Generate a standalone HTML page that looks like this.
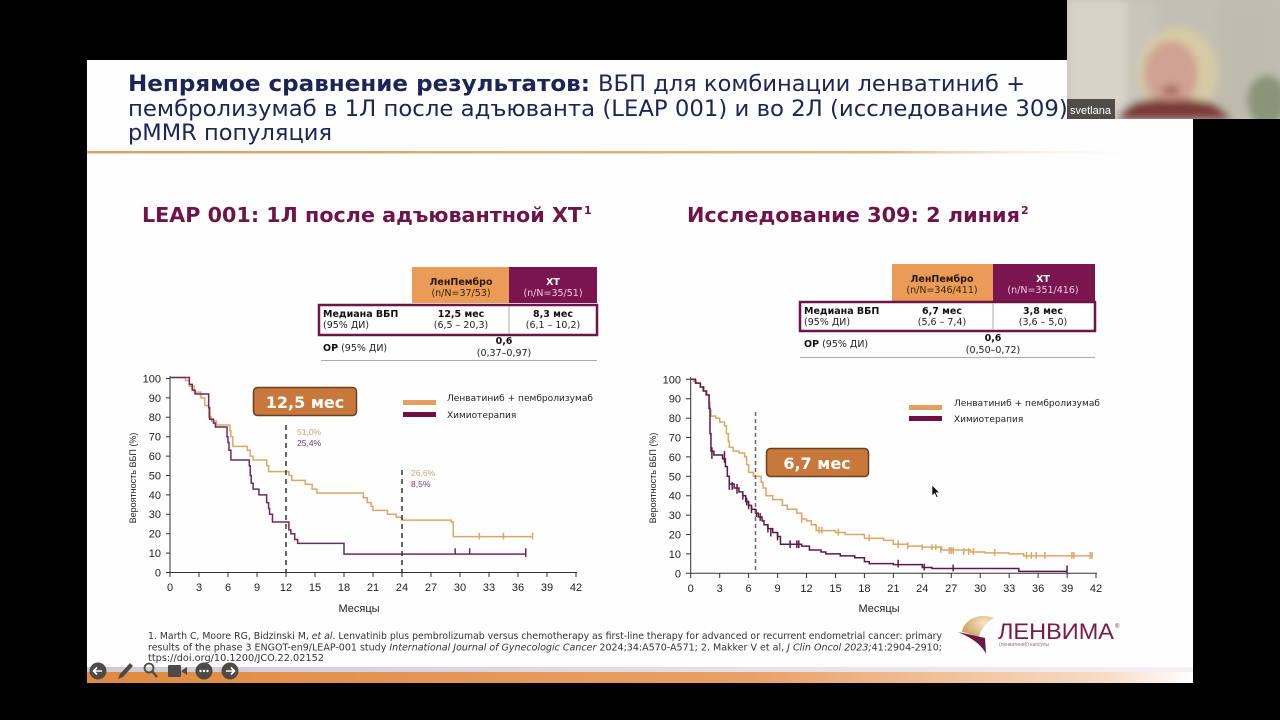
<!DOCTYPE html>
<html><head><meta charset="utf-8">
<style>
html,body{margin:0;padding:0;background:#000;width:1280px;height:720px;overflow:hidden}
svg{display:block}
.v{font-family:"DejaVu Sans","Liberation Sans",sans-serif}
.a{font-family:"Liberation Sans","DejaVu Sans",sans-serif}
</style></head>
<body>
<svg width="1280" height="720" viewBox="0 0 1280 720" xmlns="http://www.w3.org/2000/svg">
<defs>
<linearGradient id="hl" x1="0" x2="1" y1="0" y2="0">
<stop offset="0" stop-color="#d9a465"/><stop offset="0.75" stop-color="#e2b682"/><stop offset="1" stop-color="#ffffff" stop-opacity="0"/>
</linearGradient>
<linearGradient id="bl" x1="0" x2="1" y1="0" y2="0">
<stop offset="0" stop-color="#e08a40"/><stop offset="0.6" stop-color="#e9a066"/><stop offset="0.92" stop-color="#f6dcc4"/><stop offset="1" stop-color="#ffffff"/>
</linearGradient>
<linearGradient id="lv" x1="0" x2="1" y1="0" y2="0">
<stop offset="0" stop-color="#cfc8d8"/><stop offset="1" stop-color="#f4f0f4"/>
</linearGradient>
<filter id="blur" x="-20%" y="-20%" width="140%" height="140%"><feGaussianBlur stdDeviation="4"/></filter>
<radialGradient id="sw" cx="0.7" cy="0.3" r="0.8">
<stop offset="0" stop-color="#f5e6c8"/><stop offset="1" stop-color="#c89a50"/>
</radialGradient>
</defs>

<!-- slide -->
<rect x="87" y="60" width="1106" height="623" fill="#fefefe"/>
<!-- title -->
<text class="v" x="128" y="91" font-size="22" font-weight="bold" fill="#1d2456" textLength="462" lengthAdjust="spacingAndGlyphs">Непрямое сравнение результатов:</text>
<text class="v" x="598" y="91" font-size="22" fill="#1d2456" textLength="427" lengthAdjust="spacingAndGlyphs">ВБП для комбинации ленватиниб +</text>
<text class="v" x="128" y="116" font-size="22" fill="#1d2456" textLength="947" lengthAdjust="spacingAndGlyphs">пембролизумаб в 1Л после адъюванта (LEAP 001) и во 2Л (исследование 309),</text>
<text class="v" x="128" y="140" font-size="22" fill="#1d2456" textLength="204" lengthAdjust="spacingAndGlyphs">pMMR популяция</text>
<rect x="87" y="151" width="1070" height="2.5" fill="url(#hl)"/>

<!-- subtitles -->
<text class="v" x="142" y="222" font-size="20" font-weight="bold" fill="#6e1446" textLength="440" lengthAdjust="spacingAndGlyphs">LEAP 001: 1Л после адъювантной ХТ</text>
<text class="v" x="584" y="214" font-size="11" font-weight="bold" fill="#6e1446">1</text>
<text class="v" x="687" y="222" font-size="20" font-weight="bold" fill="#6e1446" textLength="333" lengthAdjust="spacingAndGlyphs">Исследование 309: 2 линия</text>
<text class="v" x="1021" y="214" font-size="11" font-weight="bold" fill="#6e1446">2</text>

<!-- LEFT TABLE -->
<rect x="412" y="267" width="97" height="36" fill="#e99b57"/>
<rect x="509" y="267" width="88" height="36" fill="#7b1550"/>
<text class="v" x="461" y="285" font-size="9.5" font-weight="bold" fill="#2a1a10" text-anchor="middle">ЛенПембро</text>
<text class="v" x="461" y="296" font-size="9.5" fill="#3a2510" text-anchor="middle">(n/N=37/53)</text>
<text class="v" x="553" y="285" font-size="9.5" font-weight="bold" fill="#fff" text-anchor="middle">ХТ</text>
<text class="v" x="553" y="296" font-size="9.5" fill="#f3c8e2" text-anchor="middle">(n/N=35/51)</text>
<rect x="319" y="305" width="278" height="30" fill="#fff" stroke="#6e1446" stroke-width="2.5"/>
<line x1="509" y1="306" x2="509" y2="334" stroke="#aaa" stroke-width="1"/>
<text class="v" x="323" y="317" font-size="9.5" font-weight="bold" fill="#111">Медиана ВБП</text>
<text class="v" x="323" y="328" font-size="9.5" fill="#222">(95% ДИ)</text>
<text class="v" x="461" y="317" font-size="9.5" font-weight="bold" fill="#111" text-anchor="middle">12,5 мес</text>
<text class="v" x="461" y="328" font-size="9.5" fill="#222" text-anchor="middle">(6,5 – 20,3)</text>
<text class="v" x="553" y="317" font-size="9.5" font-weight="bold" fill="#111" text-anchor="middle">8,3 мес</text>
<text class="v" x="553" y="328" font-size="9.5" fill="#222" text-anchor="middle">(6,1 – 10,2)</text>
<text class="v" x="323" y="351" font-size="9.5" fill="#222"><tspan font-weight="bold" fill="#111">ОР</tspan> (95% ДИ)</text>
<text class="v" x="504" y="344" font-size="9.5" font-weight="bold" fill="#111" text-anchor="middle">0,6</text>
<text class="v" x="504" y="356" font-size="9.5" fill="#222" text-anchor="middle">(0,37–0,97)</text>
<line x1="321" y1="360.5" x2="597" y2="360.5" stroke="#aaa" stroke-width="1"/>

<!-- RIGHT TABLE -->
<rect x="892" y="264" width="101" height="37" fill="#e99b57"/>
<rect x="993" y="264" width="102" height="37" fill="#7b1550"/>
<text class="v" x="942" y="282" font-size="9.5" font-weight="bold" fill="#2a1a10" text-anchor="middle">ЛенПембро</text>
<text class="v" x="942" y="293" font-size="9.5" fill="#3a2510" text-anchor="middle">(n/N=346/411)</text>
<text class="v" x="1043" y="282" font-size="9.5" font-weight="bold" fill="#fff" text-anchor="middle">ХТ</text>
<text class="v" x="1043" y="293" font-size="9.5" fill="#f3c8e2" text-anchor="middle">(n/N=351/416)</text>
<rect x="800" y="302" width="295" height="29" fill="#fff" stroke="#6e1446" stroke-width="2.5"/>
<line x1="993" y1="303" x2="993" y2="330" stroke="#aaa" stroke-width="1"/>
<text class="v" x="804" y="314" font-size="9.5" font-weight="bold" fill="#111">Медиана ВБП</text>
<text class="v" x="804" y="325" font-size="9.5" fill="#222">(95% ДИ)</text>
<text class="v" x="942" y="314" font-size="9.5" font-weight="bold" fill="#111" text-anchor="middle">6,7 мес</text>
<text class="v" x="942" y="325" font-size="9.5" fill="#222" text-anchor="middle">(5,6 – 7,4)</text>
<text class="v" x="1043" y="314" font-size="9.5" font-weight="bold" fill="#111" text-anchor="middle">3,8 мес</text>
<text class="v" x="1043" y="325" font-size="9.5" fill="#222" text-anchor="middle">(3,6 – 5,0)</text>
<text class="v" x="804" y="347" font-size="9.5" fill="#222"><tspan font-weight="bold" fill="#111">ОР</tspan> (95% ДИ)</text>
<text class="v" x="993" y="341" font-size="9.5" font-weight="bold" fill="#111" text-anchor="middle">0,6</text>
<text class="v" x="993" y="353" font-size="9.5" fill="#222" text-anchor="middle">(0,50–0,72)</text>
<line x1="800" y1="357.5" x2="1095" y2="357.5" stroke="#aaa" stroke-width="1"/>

<!-- LEFT CHART -->
<g stroke="#333" stroke-width="1" fill="none">
<line x1="170" y1="376" x2="170" y2="572.5"/>
<line x1="170" y1="572.5" x2="577" y2="572.5"/>
<path d="M166,572.5H170M166,553.1H170M166,533.7H170M166,514.3H170M166,494.9H170M166,475.5H170M166,456.1H170M166,436.7H170M166,417.3H170M166,397.9H170M166,378.5H170"/>
<path d="M170,572.5V577M199,572.5V577M228,572.5V577M257,572.5V577M286,572.5V577M315,572.5V577M344,572.5V577M373,572.5V577M402,572.5V577M431,572.5V577M460,572.5V577M489,572.5V577M518,572.5V577M547,572.5V577M576,572.5V577"/>
</g>
<g class="a" font-size="11" fill="#222" text-anchor="end">
<text x="161" y="576.5">0</text><text x="161" y="557">10</text><text x="161" y="537.5">20</text><text x="161" y="518">30</text><text x="161" y="499">40</text><text x="161" y="479.5">50</text><text x="161" y="460">60</text><text x="161" y="440.5">70</text><text x="161" y="421">80</text><text x="161" y="402">90</text><text x="161" y="382.5">100</text>
</g>
<g class="a" font-size="11" fill="#222" text-anchor="middle">
<text x="170" y="591">0</text><text x="199" y="591">3</text><text x="228" y="591">6</text><text x="257" y="591">9</text><text x="286" y="591">12</text><text x="315" y="591">15</text><text x="344" y="591">18</text><text x="373" y="591">21</text><text x="402" y="591">24</text><text x="431" y="591">27</text><text x="460" y="591">30</text><text x="489" y="591">33</text><text x="518" y="591">36</text><text x="547" y="591">39</text><text x="576" y="591">42</text>
</g>
<text class="a" x="359" y="612" font-size="11" fill="#222" text-anchor="middle">Месяцы</text>
<text class="a" transform="translate(136,478) rotate(-90)" font-size="9" fill="#222" text-anchor="middle">Вероятность ВБП (%)</text>

<g transform="translate(170,572.5) scale(9.667,-1.94)" fill="none" stroke-width="1.5">
<path vector-effect="non-scaling-stroke" stroke="#dba766" d="M0,100.5H1.6V99H2V96H2.5V93H3.2V90H3.6V86H4V80H4.3V78H4.8V76H6.2V73H6.3V70H6.5V65H8V63H8.3V60H8.6V58H10V55H10.2V52H12.3V50H12.6V47.5H14V45.5H14.7V43H15.2V41H20V38.5H20.4V36H20.8V34H21V32H22.5V30H23.4V28.5H24V27H29.1V26H29.3V18.5H37.5"/>
<path vector-effect="non-scaling-stroke" stroke="#dba766" d="M32,17V20.5M34.5,17V20.5M37.5,17V20.5"/>
<path vector-effect="non-scaling-stroke" stroke="#6d2a5f" d="M0,100.5H2V97H2.3V94H2.6V92H4V85H4.1V79H4.5V77H4.7V75H5.9V70H6V67H6.1V63H6.3V58H8.2V55H8.3V50H8.4V46H8.6V43H9.2V40H10V36H10.2V33H10.3V30H10.6V26H12.3V22H12.5V20H12.9V17H13.2V15H18V9.5H36.8"/>
<path vector-effect="non-scaling-stroke" stroke="#6d2a5f" d="M29.5,9.5V12.5M31,9.5V12.5M36.8,8V12.5"/>
</g>
<line x1="286" y1="425" x2="286" y2="572" stroke="#333" stroke-width="1.5" stroke-dasharray="5,4"/>
<line x1="402" y1="470" x2="402" y2="572" stroke="#333" stroke-width="1.5" stroke-dasharray="5,4"/>
<g class="a" font-size="8.5">
<text x="297" y="435" fill="#c9a878">51,0%</text>
<text x="297" y="446" fill="#6e3a6a">25,4%</text>
<text x="411" y="476" fill="#c9a878">26,6%</text>
<text x="411" y="487" fill="#6e3a6a">8,5%</text>
</g>
<rect x="253.5" y="387.5" width="103" height="28" rx="4" fill="#c9783c" stroke="#6b4020" stroke-width="1.5"/>
<text class="v" x="305" y="408" font-size="16" font-weight="bold" fill="#fff" text-anchor="middle">12,5 мес</text>
<rect x="403" y="400" width="33" height="5" fill="#e3a05e"/>
<rect x="403" y="412" width="33" height="5" fill="#6e1040"/>
<text class="v" x="447" y="401" font-size="9" fill="#222" textLength="146" lengthAdjust="spacingAndGlyphs">Ленватиниб + пембролизумаб</text>
<text class="v" x="447" y="418" font-size="9" fill="#222">Химиотерапия</text>

<!-- RIGHT CHART -->
<g stroke="#333" stroke-width="1" fill="none">
<line x1="690.7" y1="377" x2="690.7" y2="573.3"/>
<line x1="690.7" y1="573.3" x2="1097" y2="573.3"/>
<path d="M686,573.3H690.7M686,553.9H690.7M686,534.5H690.7M686,515.1H690.7M686,495.7H690.7M686,476.3H690.7M686,456.9H690.7M686,437.5H690.7M686,418.1H690.7M686,398.7H690.7M686,379.3H690.7"/>
<path d="M690.7,573.3V578M719.7,573.3V578M748.6,573.3V578M777.6,573.3V578M806.5,573.3V578M835.5,573.3V578M864.4,573.3V578M893.4,573.3V578M922.3,573.3V578M951.3,573.3V578M980.2,573.3V578M1009.2,573.3V578M1038.1,573.3V578M1067.1,573.3V578M1096,573.3V578"/>
</g>
<g class="a" font-size="11" fill="#222" text-anchor="end">
<text x="681" y="577.3">0</text><text x="681" y="558">10</text><text x="681" y="538.5">20</text><text x="681" y="519">30</text><text x="681" y="499.7">40</text><text x="681" y="480.3">50</text><text x="681" y="461">60</text><text x="681" y="441.5">70</text><text x="681" y="422">80</text><text x="681" y="402.7">90</text><text x="681" y="383.3">100</text>
</g>
<g class="a" font-size="11" fill="#222" text-anchor="middle">
<text x="690.7" y="592">0</text><text x="719.7" y="592">3</text><text x="748.6" y="592">6</text><text x="777.6" y="592">9</text><text x="806.5" y="592">12</text><text x="835.5" y="592">15</text><text x="864.4" y="592">18</text><text x="893.4" y="592">21</text><text x="922.3" y="592">24</text><text x="951.3" y="592">27</text><text x="980.2" y="592">30</text><text x="1009.2" y="592">33</text><text x="1038.1" y="592">36</text><text x="1067.1" y="592">39</text><text x="1096" y="592">42</text>
</g>
<text class="a" x="879" y="612" font-size="11" fill="#222" text-anchor="middle">Месяцы</text>
<text class="a" transform="translate(656,478) rotate(-90)" font-size="9" fill="#222" text-anchor="middle">Вероятность ВБП (%)</text>

<g transform="translate(690.7,573.3) scale(9.65,-1.94)" fill="none" stroke-width="1.5">
<path vector-effect="non-scaling-stroke" stroke="#dba766" d="M0,100H0.3V99H0.6V98H1V96H1.4V94H1.7V92H1.9V88H2V84H2.1V81H2.6V80H3V78H3.5V76H3.7V72H3.9V68H4V65H4.4V63H5V62H5.6V60H5.8V56H6V52H6.5V50H7.3V47H7.5V44H7.8V40H8.5V38H9.5V35H10V33H11V31H11.5V28H12V27H12.5V25H13V22H15V21H16V20H18V18H20V17H21V15H22.5V14H24V13.5H26V12H29V11H30.5V10.5H33V10H34.5V9H41.5"/>
<path vector-effect="non-scaling-stroke" stroke="#dba766" d="M11.5,26V30M13.3,20.5V24M13.6,20.5V24M15.3,19.5V23M18.5,16.5V20M21.5,13V17M22.5,12.5V16M24,12V15M25,12V15M25.4,12V15M25.9,10.5V14M26.8,10V13.5M27,10V13.5M27.2,10V13.5M28.3,9.5V13M28.8,9.5V13M29.3,9.5V13M31.5,9V12.5M34.8,7.5V11M35.3,7.5V11M35.8,7.5V11M36.7,7.5V11M39.5,7.5V11M39.7,7.5V11M41.4,7.5V11M41.6,7.5V11"/>
<path vector-effect="non-scaling-stroke" stroke="#5e1a45" d="M0,100H0.5V98H1V96H1.3V94H1.6V92H1.9V85H2V72H2.1V63H2.4V61H3.3V59H3.6V55H3.8V50H4V46H4.5V44H5V42H5.4V40H5.7V37H6V35H6.3V33H6.7V31H7V29H7.4V27H7.6V25H8V23H8.5V21H9V19H9.3V15H11.5V14H12.3V12H13.5V11H14V10H15.5V9H17V8H18V6H18.5V5H21V4.5H24V3H25V2.5H34V1H39"/>
<path vector-effect="non-scaling-stroke" stroke="#5e1a45" d="M2.2,59V65M3.5,57V63M4,43V48M4.3,43V47M4.8,41V46M5.4,38V42M5.8,35V39M6,33V37M6.3,31V35M6.8,29V33M7.2,27V31M8,21V25M8.3,19V23M9,17V21M10.3,13V17M11,13V17M11.2,13V17M21.5,3V7M24.2,1.5V5M27.2,1V4.5M39,0V4"/>
</g>
<line x1="755.5" y1="412" x2="755.5" y2="573" stroke="#666" stroke-width="1.5" stroke-dasharray="4,3"/>
<rect x="766.5" y="448.5" width="102" height="28" rx="4" fill="#c9783c" stroke="#6b4020" stroke-width="1.5"/>
<text class="v" x="817" y="469" font-size="16" font-weight="bold" fill="#fff" text-anchor="middle">6,7 мес</text>
<rect x="909" y="405" width="33" height="5" fill="#e3a05e"/>
<rect x="909" y="416" width="33" height="5" fill="#6e1040"/>
<text class="v" x="954" y="406" font-size="9" fill="#222" textLength="146" lengthAdjust="spacingAndGlyphs">Ленватиниб + пембролизумаб</text>
<text class="v" x="954" y="422" font-size="9" fill="#222">Химиотерапия</text>
<path d="M932,485 L932,496 L934.5,493.5 L936.5,497.5 L938,496.8 L936,492.8 L939.5,492.5 Z" fill="#111" stroke="#fff" stroke-width="0.6"/>

<!-- footnote -->
<g class="v" font-size="9.3" fill="#333">
<text x="148" y="639" textLength="794" lengthAdjust="spacingAndGlyphs">1. Marth C, Moore RG, Bidzinski M, <tspan font-style="italic">et al</tspan>. Lenvatinib plus pembrolizumab versus chemotherapy as first-line therapy for advanced or recurrent endometrial cancer: primary</text>
<text x="148" y="650.5" textLength="794" lengthAdjust="spacingAndGlyphs">results of the phase 3 ENGOT-en9/LEAP-001 study <tspan font-style="italic">International Journal of Gynecologic Cancer</tspan> 2024;34:A570-A571; 2. Makker V et al, <tspan font-style="italic">J Clin Oncol 2023;</tspan>41:2904-2910;</text>
<text x="148" y="661" textLength="176" lengthAdjust="spacingAndGlyphs">ttps://doi.org/10.1200/JCO.22.02152</text>
</g>

<!-- logo -->
<path d="M962,632 C964,620 978,612 994,618 C986,622 980,630 978,640 C974,636 968,633 962,632 Z" fill="url(#sw)"/>
<path d="M958,632 L985,638 L986,654 C982,645 972,638 958,632 Z" fill="#6e1446"/>
<text class="a" x="998" y="639" font-size="22" fill="#7a1a4a" textLength="116" lengthAdjust="spacingAndGlyphs">ЛЕНВИМА</text>
<text class="a" x="1115" y="628" font-size="6" fill="#7a1a4a">®</text>
<text class="a" x="999" y="646" font-size="5" fill="#9a6a80" textLength="50" lengthAdjust="spacingAndGlyphs">(ленватиниб) капсулы</text>

<!-- bottom bands -->
<rect x="87" y="667" width="1106" height="5" fill="url(#lv)"/>
<rect x="87" y="672" width="1106" height="11" fill="url(#bl)"/>
<!-- toolbar -->
<g>
<circle cx="98" cy="671" r="8.5" fill="#4d4a48"/>
<path d="M102,671H94M97,667.5L93.5,671L97,674.5" stroke="#fff" stroke-width="1.6" fill="none"/>
<path d="M118,679 L120,674 L130,663 L133,666 L123,677 Z" fill="#4d4a48"/>
<circle cx="149" cy="668" r="4.5" fill="none" stroke="#4d4a48" stroke-width="1.8"/>
<path d="M152,671L157,677" stroke="#4d4a48" stroke-width="2.2"/>
<rect x="168" y="665" width="13" height="12" rx="1.5" fill="#4d4a48"/>
<path d="M181,671L187,667V675Z" fill="#4d4a48"/>
<circle cx="204" cy="671" r="8.5" fill="#4d4a48"/>
<circle cx="200.5" cy="671" r="1.2" fill="#fff"/><circle cx="204" cy="671" r="1.2" fill="#fff"/><circle cx="207.5" cy="671" r="1.2" fill="#fff"/>
<circle cx="230" cy="671" r="8.5" fill="#4d4a48"/>
<path d="M226,671H234M231,667.5L234.5,671L231,674.5" stroke="#fff" stroke-width="1.6" fill="none"/>
</g>

<!-- webcam -->
<svg x="1067" y="0" width="213" height="119" viewBox="0 0 213 119">
<rect width="213" height="119" fill="#c2bfb4"/>
<g filter="url(#blur)">
<rect x="0" y="0" width="60" height="119" fill="#d6d3c8"/>
<rect x="60" y="0" width="30" height="119" fill="#c8c5b9"/>
<rect x="150" y="0" width="63" height="119" fill="#bfbcae"/>
<ellipse cx="200" cy="100" rx="20" ry="25" fill="#8a9478"/>
<ellipse cx="111" cy="72" rx="40" ry="45" fill="#d6cba6"/>
<ellipse cx="104" cy="74" rx="27" ry="33" fill="#cfa293"/>
<ellipse cx="104" cy="90" rx="9" ry="4" fill="#9a5a55"/>
<path d="M50,119 C60,100 80,98 104,100 C130,98 150,100 165,119 Z" fill="#7c3b37"/>
</g>
<rect x="0" y="99" width="48" height="20" fill="#3a3632" fill-opacity="0.85"/>
<text class="a" x="3" y="114" font-size="11" fill="#fff">svetlana</text>
</svg>
</svg>
</body></html>
